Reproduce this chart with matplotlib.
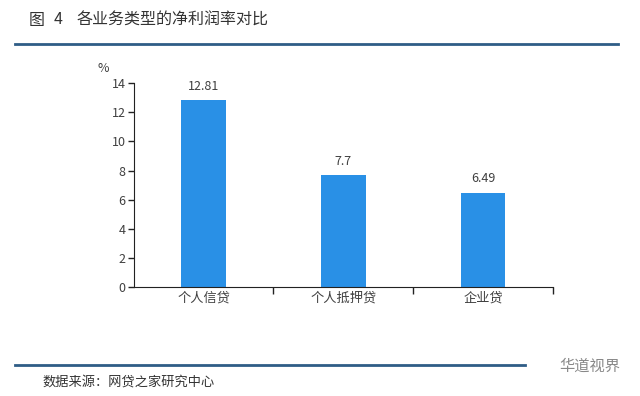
import matplotlib
matplotlib.use("Agg")
import matplotlib.pyplot as plt
from matplotlib.lines import Line2D

plt.rcParams['font.family'] = ['Noto Sans CJK SC', 'DejaVu Sans']

categories = ['个人信贷', '个人抵押贷', '企业贷']
values = [12.81, 7.7, 6.49]
value_labels = ['12.81', '7.7', '6.49']
yticks = [0, 2, 4, 6, 8, 10, 12, 14]

fig = plt.figure(figsize=(6.4, 3.96), dpi=100)
ax = fig.add_axes([0.209, 0.275, 0.655, 0.515])

x = list(range(len(categories)))
bars = ax.bar(x, values, width=0.32, color='#2990e6', zorder=2)
for xi, v, lab in zip(x, values, value_labels):
    ax.text(xi, v + 0.5, lab, ha='center', va='bottom', fontsize=9, color='#404040')

ax.set_xlim(-0.5, len(categories) - 0.5)
ax.set_ylim(0, 14)
ax.set_yticks(yticks)
ax.set_yticklabels([str(t) for t in yticks], fontsize=9, color='#404040')
ax.set_xticks(x)
ax.set_xticklabels(categories, fontsize=9.5, color='#404040')
ax.tick_params(axis='x', length=0, pad=3)
ax.tick_params(axis='y', length=4, width=1, color='#222222', pad=2)
# category boundary ticks
ax.set_xticks([i + 0.5 for i in range(len(categories))], minor=True)
ax.tick_params(axis='x', which='minor', length=5, width=1, color='#222222', direction='out')

for s in ['top', 'right']:
    ax.spines[s].set_visible(False)
ax.spines['left'].set_color('#222222')
ax.spines['bottom'].set_color('#222222')

fig.text(103 / 640, 1 - 68 / 396, '%', fontsize=9, color='#404040', ha='center', va='center')

# header
fig.text(29 / 640, 1 - 20 / 396, '图', fontsize=11.5, color='#333333', ha='left', va='center')
fig.text(54 / 640, 1 - 20 / 396, '4', fontsize=11.5, color='#333333', ha='left', va='center')
fig.text(77 / 640, 1 - 20 / 396, '各业务类型的净利润率对比', fontsize=11.5, color='#333333', ha='left', va='center')
fig.add_artist(Line2D([15 / 640, 618 / 640], [1 - 44 / 396, 1 - 44 / 396], color='#2f5d86', lw=2, transform=fig.transFigure))

# footer
fig.add_artist(Line2D([15 / 640, 525 / 640], [1 - 365 / 396, 1 - 365 / 396], color='#2f5d86', lw=2, transform=fig.transFigure))
fig.text(42 / 640, 1 - 383 / 396, '数据来源：网贷之家研究中心', fontsize=9.5, color='#333333', ha='left', va='center')
fig.text(620 / 640, 1 - 366 / 396, '华道视界', fontsize=11, color='#888888', ha='right', va='center')

fig.savefig('out.png', dpi=100)
